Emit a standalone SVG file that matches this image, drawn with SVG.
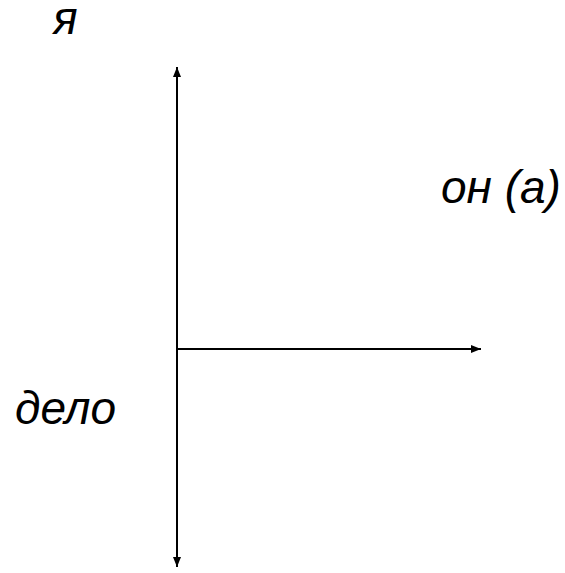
<svg xmlns="http://www.w3.org/2000/svg" width="565" height="573" viewBox="0 0 565 573">
<style>
.t{font-family:"Liberation Sans",Arial,sans-serif;font-style:italic;font-size:46px;fill:#000}
.c{stroke:#000;stroke-width:2;fill:none}
</style>
<defs>
<marker id="ah" viewBox="0 0 10 8" refX="10" refY="4" markerWidth="10" markerHeight="8" markerUnits="userSpaceOnUse" orient="auto-start-reverse">
<path d="M0,0 L10,4 L0,8 Z" fill="#000"/>
</marker>
</defs>
<rect width="565" height="573" fill="#fff"/>
<g id="connectors">
<line class="c" x1="177" y1="67" x2="177" y2="567" marker-start="url(#ah)" marker-end="url(#ah)"/>
<line class="c" x1="177" y1="349" x2="481" y2="349" marker-end="url(#ah)"/>
</g>
<g id="ya"><text class="t" x="53" y="34">я</text></g>
<g id="on"><text class="t" x="441" y="203">он (а)</text></g>
<g id="delo"><text class="t" x="15" y="424">дело</text></g>
</svg>
